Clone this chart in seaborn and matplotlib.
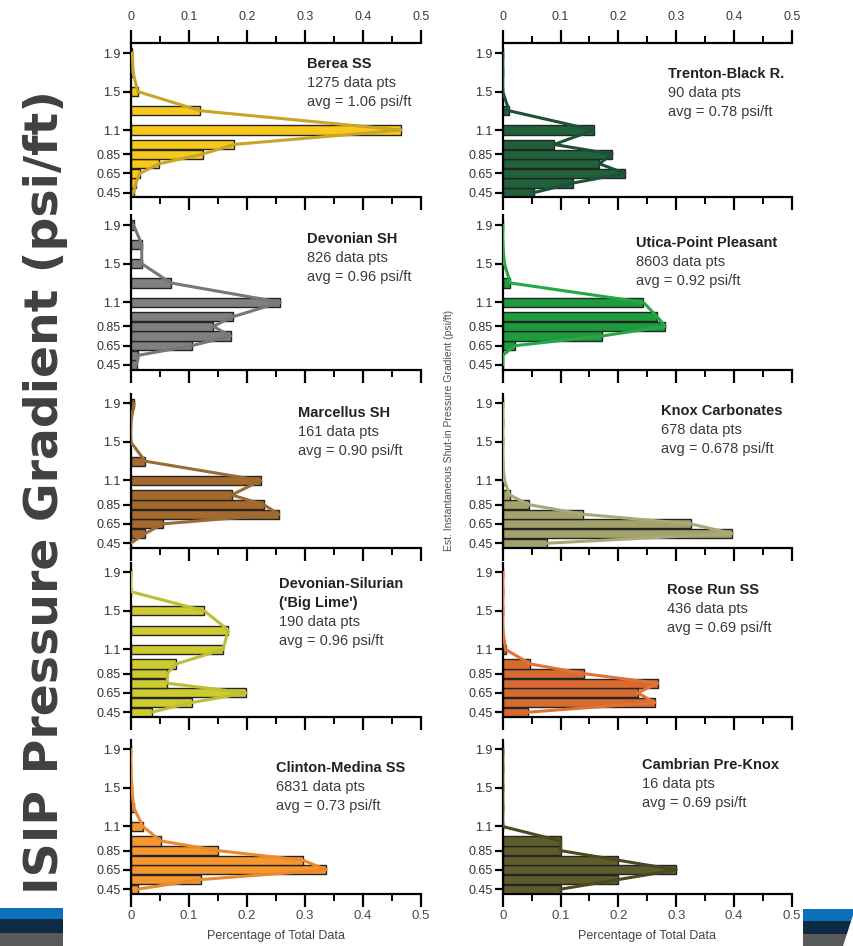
import numpy as np
import pandas as pd
import matplotlib
matplotlib.use('Agg')
import matplotlib.pyplot as plt
import seaborn as sns
from matplotlib.ticker import FixedLocator
from matplotlib.patches import Polygon

# pressure gradient bins (psi/ft) and share of data in each bin
bins = [0.45, 0.55, 0.65, 0.75, 0.85, 0.95, 1.1, 1.3, 1.5, 1.7, 1.9]

berea = [0.005, 0.009, 0.016, 0.049, 0.124, 0.178, 0.466, 0.120, 0.012, 0.004, 0.003]
devonian_sh = [0.010, 0.013, 0.105, 0.172, 0.142, 0.176, 0.258, 0.069, 0.019, 0.019, 0.005]
marcellus = [0.0, 0.025, 0.055, 0.255, 0.229, 0.174, 0.224, 0.025, 0.0, 0.0, 0.006]
big_lime = [0.036, 0.105, 0.199, 0.063, 0.063, 0.078, 0.159, 0.168, 0.127, 0.0, 0.0]
clinton = [0.012, 0.121, 0.337, 0.297, 0.150, 0.052, 0.021, 0.005, 0.002, 0.0, 0.0]
trenton = [0.054, 0.122, 0.211, 0.167, 0.189, 0.089, 0.157, 0.011, 0.0, 0.0, 0.0]
utica = [0.0, 0.0, 0.021, 0.171, 0.281, 0.267, 0.243, 0.013, 0.003, 0.0, 0.0]
knox = [0.077, 0.397, 0.325, 0.139, 0.045, 0.012, 0.003, 0.0, 0.0, 0.0, 0.0]
rose_run = [0.044, 0.263, 0.233, 0.268, 0.140, 0.048, 0.005, 0.0, 0.0, 0.0, 0.0]
cambrian = [0.1, 0.2, 0.3, 0.2, 0.1, 0.1, 0.0, 0.0, 0.0, 0.0, 0.0]

y_ticks = [0.45, 0.65, 0.85, 1.1, 1.5, 1.9]
y_ticklabels = ['0.45', '0.65', '0.85', '1.1', '1.5', '1.9']
x_ticks = [0, 0.1, 0.2, 0.3, 0.4, 0.5]
x_minor = [0.05, 0.15, 0.25, 0.35, 0.45]
x_ticklabels = ['0', '0.1', '0.2', '0.3', '0.4', '0.5']

# (values, fill, line, bold lines, normal lines, text x px, first baseline px)
panels = [
    (berea, '#F8C81A', '#C9A526', ['Berea SS'], ['1275 data pts', 'avg = 1.06 psi/ft'], 307, 68),
    (devonian_sh, '#808080', '#777777', ['Devonian SH'], ['826 data pts', 'avg = 0.96 psi/ft'], 307, 243),
    (marcellus, '#A5692B', '#9C6A33', ['Marcellus SH'], ['161 data pts', 'avg = 0.90 psi/ft'], 298, 417),
    (big_lime, '#CDCB2E', '#BDBE36', ['Devonian-Silurian', "('Big Lime')"], ['190 data pts', 'avg = 0.96 psi/ft'], 279, 588),
    (clinton, '#F6962E', '#EB8A2C', ['Clinton-Medina SS'], ['6831 data pts', 'avg = 0.73 psi/ft'], 276, 772),
    (trenton, '#1F6139', '#1D4F3A', ['Trenton-Black R.'], ['90 data pts', 'avg = 0.78 psi/ft'], 668, 78),
    (utica, '#1D9C3D', '#25A745', ['Utica-Point Pleasant'], ['8603 data pts', 'avg = 0.92 psi/ft'], 636, 247),
    (knox, '#A4A26C', '#A9A878', ['Knox Carbonates'], ['678 data pts', 'avg = 0.678 psi/ft'], 661, 415),
    (rose_run, '#D86A2F', '#E27234', ['Rose Run SS'], ['436 data pts', 'avg = 0.69 psi/ft'], 667, 594),
    (cambrian, '#5E5C2C', '#4B4A1F', ['Cambrian Pre-Knox'], ['16 data pts', 'avg = 0.69 psi/ft'], 642, 769),
]

W, H = 854, 946
col_x = [(130.7, 421.0), (502.7, 792.0)]
row_y = [(43.4, 197.4), (215.4, 369.8), (393.7, 548.0), (562.7, 717.0), (739.7, 894.0)]

sns.set_theme(style='ticks')
plt.rcParams['font.family'] = ['Liberation Sans', 'DejaVu Sans']

fig = plt.figure(figsize=(W / 100, H / 100), dpi=100)

for i, (vals, fill, line, bold, normal, tx, ty) in enumerate(panels):
    col, row = divmod(i, 5)
    x0, x1 = col_x[col]
    y0, y1 = row_y[row]
    ax = fig.add_axes([x0 / W, 1 - y1 / H, (x1 - x0) / W, (y1 - y0) / H])
    df = pd.DataFrame({'bin': bins, 'frac': vals})

    sns.barplot(data=df, x='frac', y='bin', orient='y', native_scale=True,
                width=0.95, color=fill, saturation=1, edgecolor='#252525',
                linewidth=1.0, errorbar=None, ax=ax)
    sns.lineplot(data=df, x='frac', y='bin', sort=False, estimator=None,
                 color=line, linewidth=2.2, ax=ax, zorder=5)

    ax.set_xlim(0, 0.5)
    ax.set_ylim(0.4, 2.0)
    ax.set_xlabel('')
    ax.set_ylabel('')
    ax.xaxis.set_major_locator(FixedLocator(x_ticks))
    ax.xaxis.set_minor_locator(FixedLocator(x_minor))
    ax.set_xticklabels(x_ticklabels)
    ax.yaxis.set_major_locator(FixedLocator(y_ticks))
    ax.set_yticklabels(y_ticklabels)
    ax.yaxis.set_minor_locator(FixedLocator([]))
    ax.set_facecolor('none')

    for s in ['left', 'bottom', 'top', 'right']:
        ax.spines[s].set_linewidth(1.6)
        ax.spines[s].set_color('black')
    ax.spines['right'].set_visible(False)
    ax.tick_params(axis='x', which='major', direction='out', length=9.5, width=1.6,
                   color='black', labelsize=9, labelcolor='#3a3a3a', pad=2)
    ax.tick_params(axis='x', which='minor', direction='out', length=5, width=1.4, color='black')
    ax.tick_params(axis='y', which='major', direction='out', length=5.5, width=1.6,
                   color='black', labelsize=9, labelcolor='#333333', pad=2)

    if row == 0:
        ax.tick_params(axis='x', which='both', top=True, bottom=True,
                       labeltop=True, labelbottom=False)
        ax.tick_params(axis='x', which='major', pad=5)
    elif row == 4:
        ax.spines['top'].set_visible(False)
        ax.tick_params(axis='x', which='both', top=False, bottom=True,
                       labeltop=False, labelbottom=True)
        ax.tick_params(axis='x', which='major', labelsize=9.5, labelcolor='#4a4a4a', pad=2)
        ax.set_xlabel('Percentage of Total Data', fontsize=9, color='#444444', labelpad=6)
    else:
        ax.spines['top'].set_visible(False)
        ax.tick_params(axis='x', which='both', top=False, bottom=True,
                       labeltop=False, labelbottom=False)

    # panel annotation
    y = ty
    for b in bold:
        fig.text(tx / W, 1 - y / H, b, fontsize=10.5, weight='bold', color='#222222',
                 ha='left', va='baseline')
        y += 19
    for t in normal:
        fig.text(tx / W, 1 - y / H, t, fontsize=10.5, color='#3a3a3a',
                 ha='left', va='baseline')
        y += 19

fig.text(46 / W, 1 - 492 / H, 'ISIP Pressure Gradient (psi/ft)', rotation=90,
         fontsize=34, weight='bold', color='#404040', ha='center', va='center',
         family=['DejaVu Sans'])
fig.text(449 / W, 1 - 430 / H, 'Est. Instantaneous Shut-in Pressure Gradient (psi/ft)',
         rotation=90, fontsize=7.5, color='#505050', ha='center', va='center')

# slide decoration in the bottom corners
def px_poly(pts, color):
    fig.add_artist(Polygon([(x / W, 1 - y / H) for x, y in pts], closed=True,
                           transform=fig.transFigure, facecolor=color,
                           edgecolor='none', zorder=0))

bands = [(908, 919, '#0B72BA'), (919, 933, '#0E2A44'), (933, 946, '#58595B')]
for ya, yb, c in bands:
    px_poly([(0, ya), (63, ya), (63, yb), (0, yb)], c)

def xr(yv):
    return 855 - (yv - 909) * 12 / 37

bands_r = [(909, 921, '#0B72BA'), (921, 934, '#0E2A44'), (934, 946, '#58595B')]
for ya, yb, c in bands_r:
    px_poly([(803, ya), (xr(ya), ya), (xr(yb), yb), (803, yb)], c)

fig.savefig('out.png', dpi=100)
